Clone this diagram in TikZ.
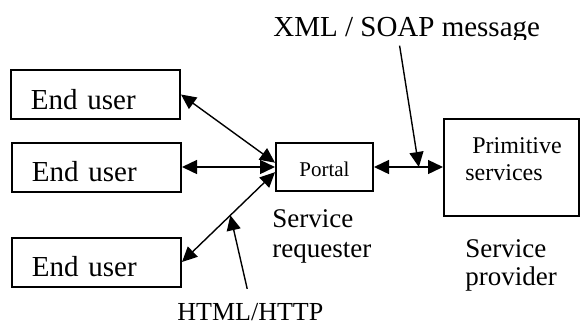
\documentclass[tikz,border=0pt]{standalone}
\usepackage{fontspec}
\setmainfont{Liberation Serif}
\usetikzlibrary{arrows.meta, positioning}

\begin{document}
\begin{tikzpicture}[x=0.5pt, y=-0.5pt,
		userbox/.style={draw, line width=1pt, minimum width=84.5pt, minimum height=24.5pt, text width=64.5pt, inner xsep=10pt, align=left, text height=14.5pt, text depth=0pt, font=\fontsize{14.5}{17}\selectfont},
		link/.style={line width=0.7pt, {Triangle[length=7.5pt,width=7pt]}-{Triangle[length=7.5pt,width=7pt]}},
		pointer/.style={line width=0.7pt, -{Triangle[length=7.5pt,width=7pt]}},
		lbl/.style={inner sep=0pt, align=left}]
		\fill[white] (0,0) rectangle (580,323);
		
		\node[userbox] (eu1) at (95.5,94.5) {End user};
		\node[userbox] (eu2) at (96.5,167) {End user};
		\node[userbox] (eu3) at (96.5,262) {End user};
		
		\node[draw, line width=1pt, minimum width=48.5pt, minimum height=24pt, text height=9pt, text depth=0pt, font=\fontsize{10.5}{12}\selectfont] (portal) at (324.5,167) {Portal};
		\node[draw, line width=1pt, minimum width=67.5pt, minimum height=48.5pt] (prim) at (511.5,167) {};
		\node[lbl, anchor=north west, font=\fontsize{12}{13.5}\selectfont] (primtxt) at (465,137) {\hspace*{3.5pt}Primitive\\services};
		
		\node[lbl, anchor=north west, font=\fontsize{13.5}{15}\selectfont] (req) at (272,209) {Service\\requester};
		\node[lbl, anchor=north west, font=\fontsize{13.5}{14}\selectfont] (prov) at (465,239) {Service\\provider};
		\node[lbl, anchor=base west, font=\fontsize{13}{15}\selectfont] (http) at (177,320) {HTML/HTTP};
		\begin{scope}
			\clip (0,0) rectangle (580,39);
			\node[lbl, anchor=base west, font=\fontsize{14.5}{17}\selectfont] (soap) at (273,36) {XML / SOAP message};
		\end{scope}
		
		\draw[link] (eu1.east) -- (portal.175);
		\draw[link] (eu2.east) -- (portal.west);
		\draw[link] (eu3.east) -- node[coordinate, pos=0.52] (httpmid) {} (portal.186);
		\draw[link] (portal) -- node[coordinate, pos=0.65] (soapmid) {} (prim);
		
		\draw[pointer, shorten <=7pt] (http.north) -- (httpmid);
		\draw[pointer, shorten <=1.5pt] (soap.240) -- (soapmid);
	\end{tikzpicture}
\end{document}
